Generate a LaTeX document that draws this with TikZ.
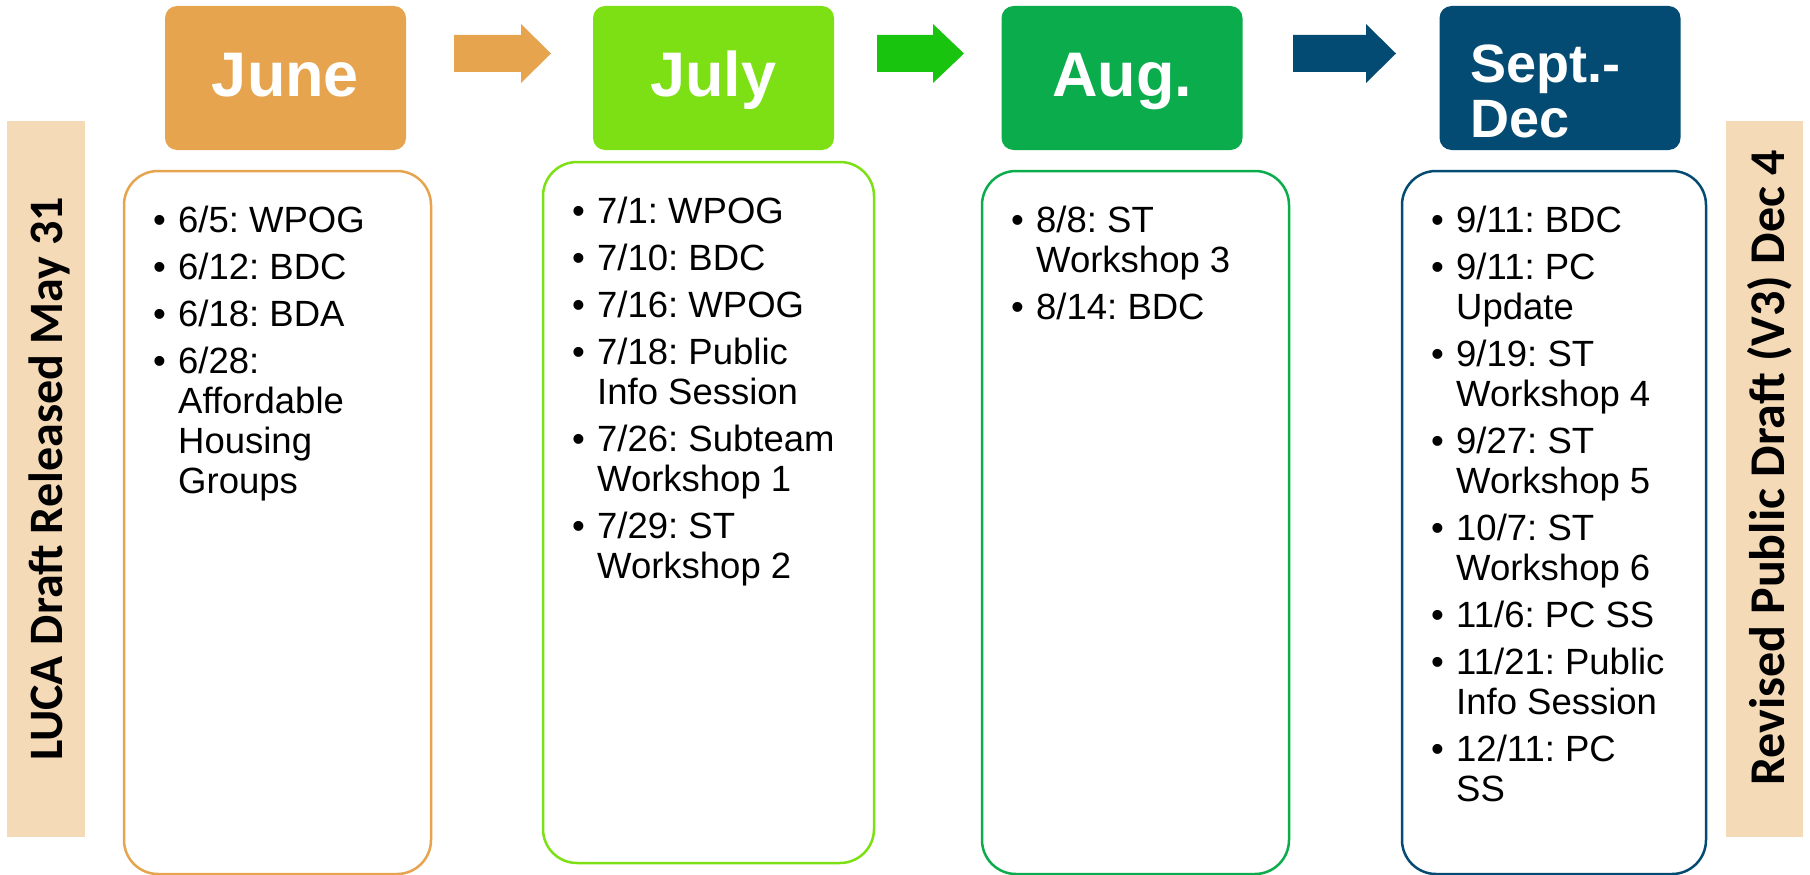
\documentclass[tikz,border=0pt]{standalone}
\usepackage{fontspec}
\setmainfont{Liberation Sans}
\newfontfamily\bandfont{Carlito}
\definecolor{juneor}{RGB}{229,164,77}
\definecolor{julygr}{RGB}{125,224,20}
\definecolor{auggr}{RGB}{10,172,75}
\definecolor{arrowgr}{RGB}{24,196,14}
\definecolor{septbl}{RGB}{3,75,114}
\definecolor{tanps}{RGB}{245,218,183}
\frenchspacing

\begin{document}
\begin{tikzpicture}[x=1pt, y=-1pt,
        monthbox/.style={rounded corners=12pt, minimum width=241pt, minimum height=144pt,
                         inner sep=0pt, outer sep=0pt},
        monthtxt/.style={anchor=base, inner sep=0pt, text=white,
                         font=\fontsize{63}{63}\selectfont\bfseries},
        listbox/.style={line width=2.5pt, rounded corners=34pt, inner sep=0pt, outer sep=0pt},
        listtxt/.style={anchor=base west, inner sep=0pt,
                        font=\fontsize{36.5}{40}\selectfont},
        bandtxt/.style={anchor=base, rotate=90, inner sep=0pt,
                        font=\bandfont\bfseries\fontsize{48}{48}\selectfont}]
    \useasboundingbox (0,0) rectangle (1810,875);

    % draft release bands
    \fill[tanps] (7,121) rectangle (85,837);
    \fill[tanps] (1726,121) rectangle (1803,837);
    \node[bandtxt] (luca) at (62,479) {LUCA Draft Released May 31};
    \node[bandtxt, font=\bandfont\bfseries\fontsize{50}{50}\selectfont] (rev)
        at (1784,468) {Revised Public Draft (V3) Dec 4};

    % month headers
    \foreach \i/\x/\col/\txt in {1/285.5/juneor/June, 2/713.5/julygr/July,
                                 3/1122/auggr/Aug., 4/1560/septbl/{}}
    {
        \node[monthbox, fill=\col] (h\i) at (\x,78) {};
        \node[monthtxt] (t\i) at (\x,96) {\txt};
    }
    \node[monthtxt, anchor=base west, font=\fontsize{54}{55}\selectfont\bfseries] (t5)
        at (1470,82) {\begin{tabular}[t]{@{}l@{}}Sept.-\\Dec\end{tabular}};

    % block arrows between the months
    \foreach \a/\b/\c/\col in {454/521/551/juneor, 877/933/964/arrowgr, 1293/1366/1396/septbl}
    {
        \fill[\col] (\a,35) -- (\b,35) -- (\b,24) -- (\c,53.5) -- (\b,83) -- (\b,72)
            -- (\a,72) -- cycle;
    }

    % meeting boxes
    \foreach \i/\cx/\cy/\w/\h/\col in {1/277.5/522.5/307/703/juneor, 2/708.5/512.5/331/701/julygr,
                                       3/1135.5/522.5/307/703/auggr, 4/1554/522.5/304/703/septbl}
    {
        \node[listbox, draw=\col, minimum width=\w pt, minimum height=\h pt] (b\i) at (\cx,\cy) {};
    }

    \node[listtxt] (l1) at ([shift={(29,61)}]b1.north west) {%
        \begin{tabular}[t]{@{}p{25pt}@{}l@{}}
            \textbullet & 6/5: WPOG\\[7pt]
            \textbullet & 6/12: BDC\\[7pt]
            \textbullet & 6/18: BDA\\[7pt]
            \textbullet & 6/28:\\
                        & Affordable\\
                        & Housing\\
                        & Groups
        \end{tabular}};
    \node[listtxt] (l2) at ([shift={(29,61)}]b2.north west) {%
        \begin{tabular}[t]{@{}p{25pt}@{}l@{}}
            \textbullet & 7/1: WPOG\\[7pt]
            \textbullet & 7/10: BDC\\[7pt]
            \textbullet & 7/16: WPOG\\[7pt]
            \textbullet & 7/18: Public\\
                        & Info Session\\[7pt]
            \textbullet & 7/26: Subteam\\
                        & Workshop 1\\[7pt]
            \textbullet & 7/29: ST\\
                        & Workshop 2
        \end{tabular}};
    \node[listtxt] (l3) at ([shift={(29,61)}]b3.north west) {%
        \begin{tabular}[t]{@{}p{25pt}@{}l@{}}
            \textbullet & 8/8: ST\\
                        & Workshop 3\\[7pt]
            \textbullet & 8/14: BDC
        \end{tabular}};
    \node[listtxt] (l4) at ([shift={(29,61)}]b4.north west) {%
        \begin{tabular}[t]{@{}p{25pt}@{}l@{}}
            \textbullet & 9/11: BDC\\[7pt]
            \textbullet & 9/11: PC\\
                        & Update\\[7pt]
            \textbullet & 9/19: ST\\
                        & Workshop 4\\[7pt]
            \textbullet & 9/27: ST\\
                        & Workshop 5\\[7pt]
            \textbullet & 10/7: ST\\
                        & Workshop 6\\[7pt]
            \textbullet & 11/6: PC SS\\[7pt]
            \textbullet & 11/21: Public\\
                        & Info Session\\[7pt]
            \textbullet & 12/11: PC\\
                        & SS
        \end{tabular}};
\end{tikzpicture}
\end{document}
